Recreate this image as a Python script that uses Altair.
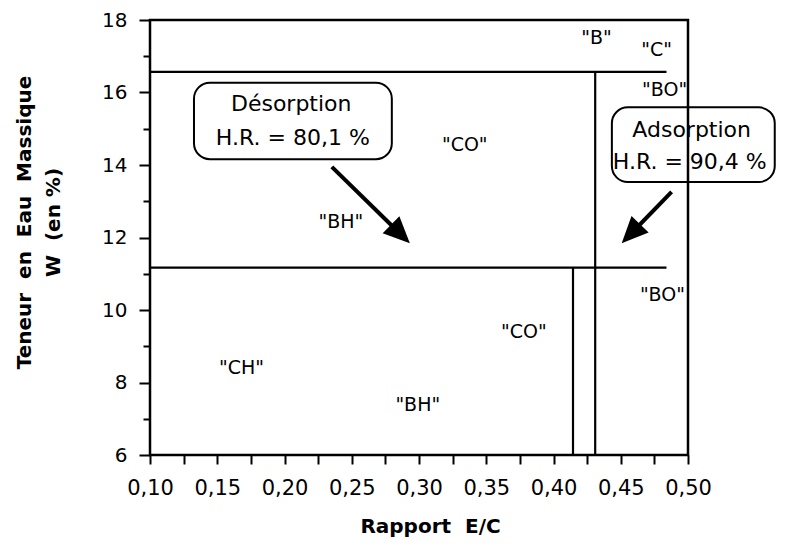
import altair as alt
import pandas as pd

# ---------------- data ----------------
X_DOMAIN = [0.10, 0.50]
Y_DOMAIN = [6, 18]

x_tick_values = [0.100, 0.125, 0.150, 0.175, 0.200, 0.225, 0.250, 0.275, 0.300,
                 0.325, 0.350, 0.375, 0.400, 0.425, 0.450, 0.475, 0.500]
y_tick_values = [6, 7, 8, 9, 10, 11, 12, 13, 14, 15, 16, 17, 18]

NB = "\u00a0"
x_title = "Rapport" + NB + NB + "E/C"
y_title = ["Teneur" + NB + NB + "en" + NB + NB + "Eau" + NB + NB + "Massique",
           "W" + NB + NB + "(en" + NB + "%)"]

# boundary segments (phase limits)
seg_x = [0.100, 0.100, 0.4310, 0.4145]
seg_x2 = [0.4840, 0.4840, 0.4310, 0.4145]
seg_y = [16.57, 11.17, 6.0, 6.0]
seg_y2 = [16.57, 11.17, 16.57, 11.17]

# region labels
region_text = ['"B"', '"C"', '"BO"', '"CO"', '"BH"', '"BO"', '"CO"', '"CH"', '"BH"']
region_x = [0.432, 0.4767, 0.4826, 0.334, 0.2419, 0.481, 0.378, 0.168, 0.2991]
region_y = [17.50, 17.18, 16.08, 14.55, 12.44, 10.42, 9.40, 8.40, 7.37]

# annotation boxes
box_x = [0.1327, 0.4434]
box_x2 = [0.2798, 0.5645]
box_y = [16.27, 15.59]
box_y2 = [14.16, 13.53]

note_text = ["Désorption", "H.R. = 80,1 %", "Adsorption", "H.R. = 90,4 %"]
note_x = [0.2050, 0.2062, 0.5027, 0.5013]
note_y = [15.67, 14.74, 14.96, 14.08]

# arrows (start -> tip)
arrow_x0 = [0.2352, 0.4878]
arrow_y0 = [13.95, 13.26]
arrow_x1 = [0.2932, 0.4507]
arrow_y1 = [11.84, 11.84]
arrow_angle = [134.6, 224.0]

# ---------------- tables ----------------
seg_df = pd.DataFrame({"x": seg_x, "x2": seg_x2, "y": seg_y, "y2": seg_y2})
reg_df = pd.DataFrame({"t": region_text, "x": region_x, "y": region_y})
box_df = pd.DataFrame({"x": box_x, "x2": box_x2, "y": box_y, "y2": box_y2})
note_df = pd.DataFrame({"t": note_text, "x": note_x, "y": note_y})
arr_df = pd.DataFrame({"x0": arrow_x0, "y0": arrow_y0, "x1": arrow_x1,
                       "y1": arrow_y1, "ang": arrow_angle})
arr_df["xe"] = arr_df["x0"] + 0.8 * (arr_df["x1"] - arr_df["x0"])
arr_df["ye"] = arr_df["y0"] + 0.8 * (arr_df["y1"] - arr_df["y0"])

FONT = "DejaVu Sans"

xs = alt.Scale(domain=X_DOMAIN, nice=False, zero=False)
ys = alt.Scale(domain=Y_DOMAIN, nice=False, zero=False)

x_axis = alt.Axis(
    values=x_tick_values,
    labelExpr="(round(datum.value*1000) % 50 == 0) ? replace(format(datum.value, '.2f'), '.', ',') : ''",
    title=x_title,
    grid=False, domain=False,
    tickSize=9, tickWidth=2, tickColor="black",
    labelFont=FONT, labelFontSize=21, labelColor="black", labelPadding=13,
    labelOverlap=False, labelFlush=False, labelBound=False,
    titleFont=FONT, titleFontSize=20, titleFontWeight="bold", titleColor="black",
    titleX=280, titleY=71, titleBaseline="middle", titleAnchor="start", titleAlign="center",
)
y_axis = alt.Axis(
    values=y_tick_values,
    labelExpr="datum.value % 2 == 0 ? datum.label : ''",
    title=y_title,
    grid=False, domain=False,
    tickSize=alt.condition("datum.value % 2 == 0", alt.value(11), alt.value(7)),
    tickWidth=2, tickColor="black",
    labelFont=FONT, labelFontSize=20, labelColor="black", labelPadding=12,
    labelOverlap=False, labelFlush=False, labelBound=False,
    titleFont=FONT, titleFontSize=20, titleFontWeight="bold", titleColor="black",
    titleAngle=270, titleX=-126, titleY=202, titleBaseline="middle",
    titleAlign="center", titleLineHeight=29,
)


def X(f):
    return alt.X(f, type="quantitative", scale=xs, axis=x_axis)


def Y(f):
    return alt.Y(f, type="quantitative", scale=ys, axis=y_axis)


boxes = alt.Chart(box_df).mark_rect(
    filled=False, stroke="black", strokeWidth=2, cornerRadius=16, clip=False
).encode(x=X("x"), x2="x2", y=Y("y"), y2="y2")

segs = alt.Chart(seg_df).mark_rule(
    color="black", strokeWidth=2.2, clip=False
).encode(x=X("x"), x2="x2", y=Y("y"), y2="y2")

regions = alt.Chart(reg_df).mark_text(
    font=FONT, fontSize=19, color="black", clip=False
).encode(x=X("x"), y=Y("y"), text="t:N")

notes = alt.Chart(note_df).mark_text(
    font=FONT, fontSize=22, color="black", clip=False
).encode(x=X("x"), y=Y("y"), text="t:N")

shafts = alt.Chart(arr_df).mark_rule(
    color="black", strokeWidth=4, clip=False
).encode(x=X("x0"), x2="xe", y=Y("y0"), y2="ye")

heads = alt.Chart(arr_df).mark_point(
    shape="M0,0L-0.45,1L0.45,1Z", filled=True, color="black", opacity=1,
    size=2800, strokeWidth=0, clip=False
).encode(x=X("x1"), y=Y("y1"), angle=alt.Angle("ang:Q", scale=None))

chart = alt.layer(boxes, segs, regions, notes, shafts, heads).properties(
    width=538, height=435,
    padding={"left": 142, "top": 12, "right": 100, "bottom": 89},
    autosize=alt.AutoSizeParams(type="none"),
    background="white",
).configure_view(stroke="black", strokeWidth=2.5)

chart.save("out.html", embed_options={"renderer": "svg", "actions": False})
